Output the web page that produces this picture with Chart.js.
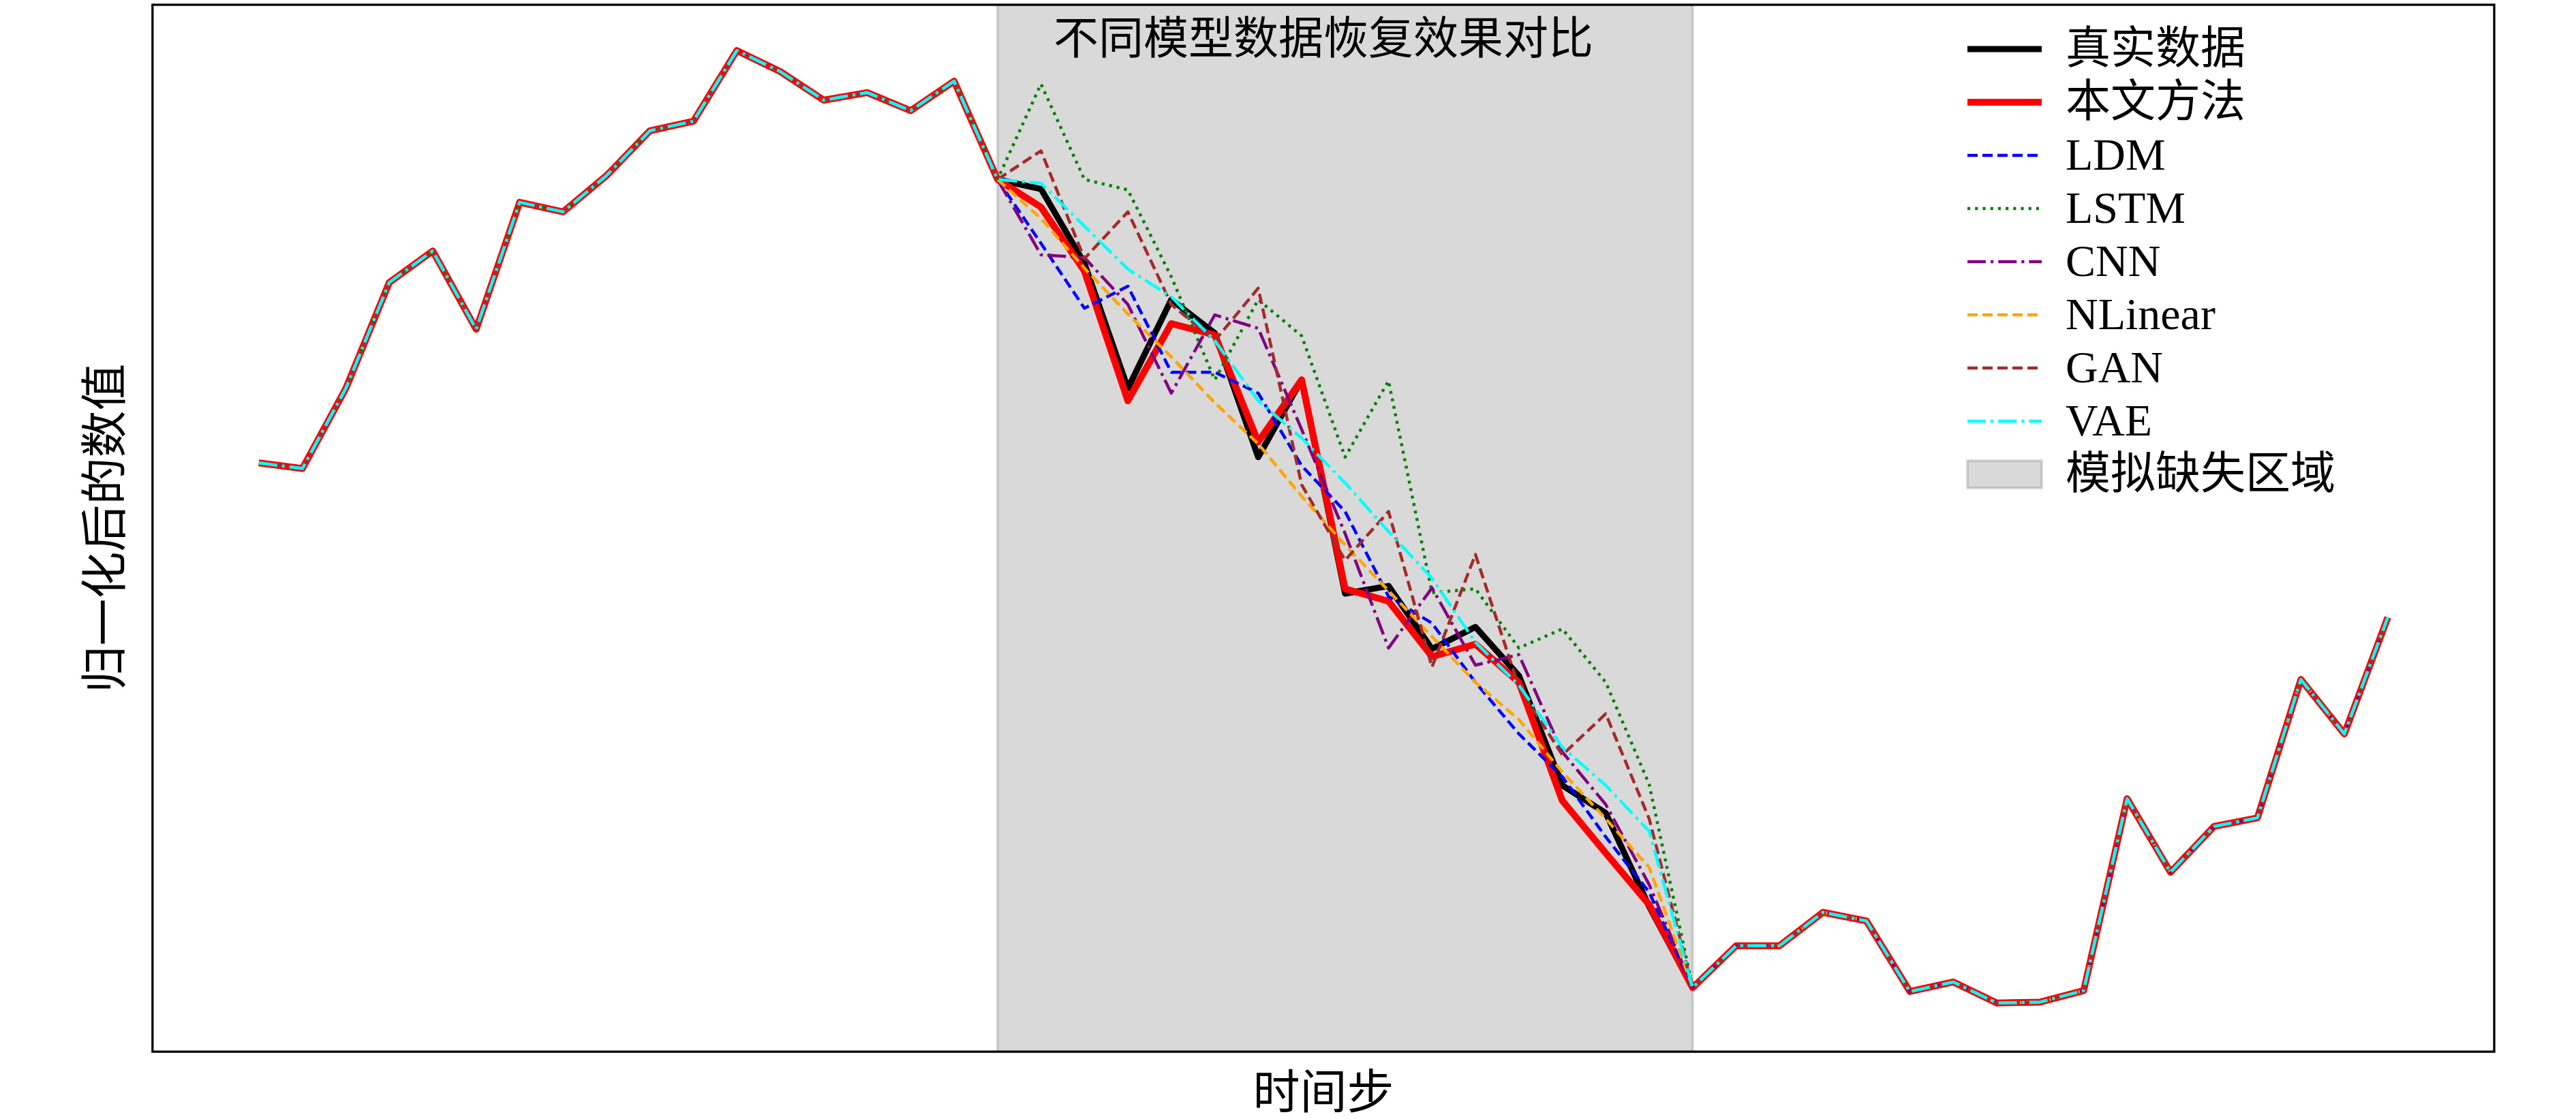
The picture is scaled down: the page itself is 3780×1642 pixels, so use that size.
<!DOCTYPE html>
<html lang="zh">
<head>
    <meta charset="UTF-8">
    <title>不同模型数据恢复效果对比</title>
    <script src="https://cdn.jsdelivr.net/npm/chart.js@4.4.0/dist/chart.umd.min.js"></script>
    <style>
        html, body { margin: 0; padding: 0; background: #fff; }
        #chart { display: block; }
    </style>
</head>
<body>
    <canvas id="chart" width="3780" height="1642"></canvas>

    <script>
    // time steps 0..49, the simulated missing window runs from step 17 to step 33
    const timeSteps = Array.from({ length: 50 }, (_, i) => i);
    const gapStart = 17;
    const gapEnd = 33;

    // observed values shared by every series (steps 0-17 and 33-49)
    const observedHead = [0.567, 0.561, 0.645, 0.756, 0.789, 0.707, 0.840, 0.830, 0.868, 0.915,
                          0.925, 0.999, 0.977, 0.947, 0.955, 0.936, 0.967, 0.864];
    const observedTail = [0.017, 0.061, 0.061, 0.096, 0.087, 0.013, 0.023, 0.001, 0.002, 0.014,
                          0.215, 0.138, 0.186, 0.195, 0.340, 0.283, 0.405];

    // steps 18-32 inside the missing window
    const trueGap    = [0.854, 0.776, 0.645, 0.738, 0.703, 0.573, 0.654, 0.430, 0.438, 0.372, 0.395, 0.344, 0.229, 0.200, 0.102];
    const oursGap    = [0.835, 0.768, 0.632, 0.713, 0.701, 0.589, 0.654, 0.435, 0.422, 0.364, 0.377, 0.337, 0.213, 0.158, 0.104];
    const ldmGap     = [0.797, 0.729, 0.752, 0.662, 0.662, 0.640, 0.564, 0.516, 0.427, 0.399, 0.337, 0.283, 0.238, 0.175, 0.117];
    const lstmGap    = [0.964, 0.864, 0.853, 0.762, 0.654, 0.738, 0.700, 0.573, 0.653, 0.431, 0.435, 0.373, 0.393, 0.337, 0.230];
    const cnnGap     = [0.785, 0.782, 0.733, 0.640, 0.722, 0.708, 0.602, 0.493, 0.373, 0.436, 0.355, 0.366, 0.264, 0.209, 0.125];
    const nlinearGap = [0.823, 0.771, 0.723, 0.678, 0.630, 0.587, 0.532, 0.481, 0.433, 0.385, 0.337, 0.298, 0.243, 0.194, 0.143];
    const ganGap     = [0.894, 0.781, 0.830, 0.733, 0.695, 0.750, 0.544, 0.465, 0.516, 0.353, 0.471, 0.332, 0.261, 0.304, 0.194];
    const vaeGap     = [0.860, 0.815, 0.770, 0.741, 0.695, 0.632, 0.593, 0.546, 0.495, 0.446, 0.379, 0.334, 0.269, 0.229, 0.181];

    const seriesNames = ['真实数据', '本文方法', 'LDM', 'LSTM', 'CNN', 'NLinear', 'GAN', 'VAE'];
    const spanLabel = '模拟缺失区域';

    const cjk = "'Noto Sans CJK SC', sans-serif";
    const mixed = "'Liberation Serif', 'Noto Sans CJK SC', serif";

    function fullSeries(gap) {
        return observedHead.concat(gap, observedTail).map((v, i) => ({ x: timeSteps[i], y: v }));
    }

    const dash = [15, 7];
    const dot = [4.2, 7];
    const dashDot = [27, 7, 4.2, 7];

    // later series sit on top, like matplotlib's plotting order
    const styles = [
        { color: '#000000', width: 9,   dash: [] },
        { color: '#ff0000', width: 10,  dash: [] },
        { color: '#0000ff', width: 4.5, dash: dash },
        { color: '#008000', width: 4.5, dash: dot },
        { color: '#800080', width: 4.5, dash: dashDot },
        { color: '#ffa500', width: 4.5, dash: dash },
        { color: '#a52a2a', width: 4.5, dash: dash },
        { color: '#00ffff', width: 4.5, dash: dashDot }
    ];
    const gaps = [trueGap, oursGap, ldmGap, lstmGap, cnnGap, nlinearGap, ganGap, vaeGap];

    const datasets = seriesNames.map((name, k) => ({
        label: name,
        data: fullSeries(gaps[k]),
        borderColor: styles[k].color,
        borderWidth: styles[k].width,
        borderDash: styles[k].dash,
        borderJoinStyle: 'round',
        pointRadius: 0,
        tension: 0,
        fill: false,
        order: seriesNames.length - k
    }));

    const spanFill = 'rgba(128,128,128,0.3)';

    const missingSpan = {
        id: 'missingSpan',
        beforeDatasetsDraw(chart) {
            const { ctx, chartArea, scales: { x } } = chart;
            const x0 = x.getPixelForValue(gapStart);
            const x1 = x.getPixelForValue(gapEnd);
            ctx.save();
            ctx.fillStyle = spanFill;
            ctx.fillRect(x0, chartArea.top, x1 - x0, chartArea.height);
            ctx.strokeStyle = spanFill;
            ctx.lineWidth = 4;
            ctx.strokeRect(x0, chartArea.top, x1 - x0, chartArea.height);
            ctx.restore();
        }
    };

    const frameTitleLegend = {
        id: 'frameTitleLegend',
        afterDraw(chart) {
            const { ctx, chartArea } = chart;
            ctx.save();

            // axes frame
            ctx.strokeStyle = '#000';
            ctx.lineWidth = 3.3;
            ctx.setLineDash([]);
            ctx.strokeRect(chartArea.left, chartArea.top, chartArea.width, chartArea.height);

            // title inside the top of the plot
            ctx.fillStyle = '#000';
            ctx.font = '66px ' + cjk;
            ctx.textAlign = 'center';
            ctx.textBaseline = 'middle';
            ctx.fillText('不同模型数据恢复效果对比', (chartArea.left + chartArea.right) / 2, chartArea.top + 47);

            // legend, top right, no frame
            const hx = chartArea.right - 773;
            const hLen = 109;
            const tx = chartArea.right - 629;
            const y0 = chartArea.top + 65;
            const rowGap = 78;
            ctx.textAlign = 'left';
            ctx.font = '66px ' + mixed;
            chart.data.datasets.forEach((ds, i) => {
                const y = y0 + i * rowGap;
                ctx.strokeStyle = ds.borderColor;
                ctx.lineWidth = ds.borderWidth;
                ctx.lineCap = 'butt';
                ctx.setLineDash(ds.borderDash);
                ctx.beginPath();
                ctx.moveTo(hx, y);
                ctx.lineTo(hx + hLen, y);
                ctx.stroke();
                ctx.fillStyle = '#000';
                ctx.fillText(ds.label, tx, y + 4);
            });
            const py = y0 + chart.data.datasets.length * rowGap;
            ctx.setLineDash([]);
            ctx.fillStyle = spanFill;
            ctx.fillRect(hx, py - 20, hLen, 40);
            ctx.strokeStyle = spanFill;
            ctx.lineWidth = 4;
            ctx.strokeRect(hx, py - 20, hLen, 40);
            ctx.fillStyle = '#000';
            ctx.fillText(spanLabel, tx, py + 4);

            ctx.restore();
        }
    };

    new Chart(document.getElementById('chart').getContext('2d'), {
        type: 'line',
        data: { datasets: datasets },
        options: {
            responsive: false,
            animation: false,
            devicePixelRatio: 1,
            layout: { padding: { top: 7, right: 120, bottom: 0, left: 0 } },
            plugins: {
                legend: { display: false },
                tooltip: { enabled: false },
                title: { display: false }
            },
            scales: {
                x: {
                    type: 'linear',
                    min: -2.45,
                    max: 51.45,
                    grid: { display: false, drawTicks: false, tickLength: 0 },
                    border: { display: false },
                    ticks: { display: false },
                    title: {
                        display: true,
                        text: '时间步',
                        color: '#000',
                        font: { family: cjk, size: 69 },
                        padding: { top: 16, bottom: 0 }
                    }
                },
                y: {
                    min: -0.05,
                    max: 1.047,
                    grid: { display: false, drawTicks: false, tickLength: 0 },
                    border: { display: false },
                    ticks: { display: false },
                    title: {
                        display: true,
                        text: '归一化后的数值',
                        color: '#000',
                        font: { family: cjk, size: 69 },
                        padding: { top: 110, bottom: 31 }
                    }
                }
            }
        },
        plugins: [missingSpan, frameTitleLegend]
    });
    </script>
</body>
</html>
